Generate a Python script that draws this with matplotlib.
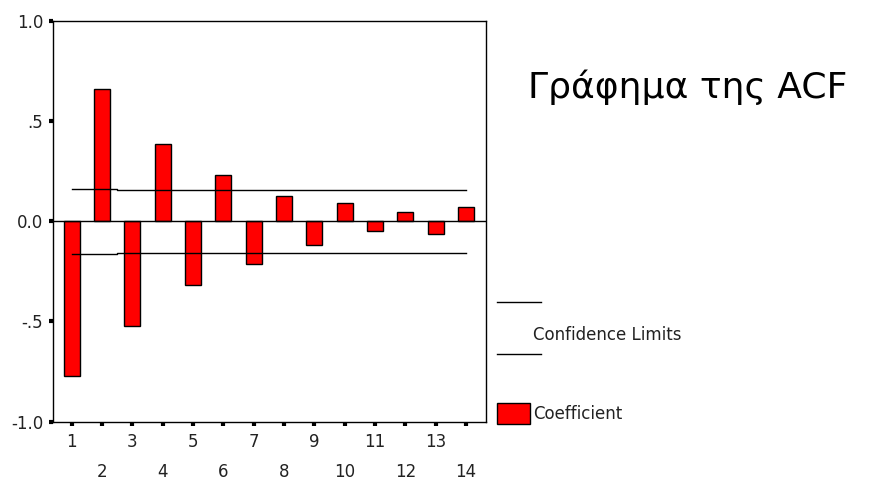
import matplotlib
matplotlib.use("Agg")
import matplotlib.pyplot as plt
from matplotlib.lines import Line2D
from matplotlib.patches import Rectangle

# ACF values
lags = list(range(1, 15))
acf = [-0.77, 0.657, -0.525, 0.387, -0.316, 0.228, -0.213,
       0.128, -0.117, 0.091, -0.047, 0.046, -0.065, 0.070]
upper = [0.160, 0.160] + [0.155] * 12
lower = [-0.165, -0.165] + [-0.160] * 12
yticks = [-1.0, -0.5, 0.0, 0.5, 1.0]
ytick_labels = ["-1.0", "-.5", "0.0", ".5", "1.0"]
title = "Γράφημα της ACF"

plt.rcParams["font.family"] = ["DejaVu Sans"]

fig = plt.figure(figsize=(8.75, 4.8), dpi=100)
ax = fig.add_axes([53 / 875, 1 - 421.7 / 480, 433 / 875, 401 / 480])

ax.bar(lags, acf, width=0.53, color="#ff0000", edgecolor="black", linewidth=1.0, zorder=2)
ax.axhline(0, color="black", linewidth=1.0, zorder=3)
ax.plot(lags, upper, color="black", linewidth=1.0, drawstyle="steps-mid", zorder=3)
ax.plot(lags, lower, color="black", linewidth=1.0, drawstyle="steps-mid", zorder=3)

ax.set_xlim(0.38, 14.66)
ax.set_ylim(-1.0, 1.0)
ax.set_yticks(yticks)
ax.set_yticklabels(ytick_labels)

odd = [l for l in lags if l % 2 == 1]
even = [l for l in lags if l % 2 == 0]
ax.set_xticks(odd)
ax.set_xticklabels([str(l) for l in odd])
ax.set_xticks(even, minor=True)
ax.set_xticklabels([str(l) for l in even], minor=True)

for s in ax.spines.values():
    s.set_linewidth(1.0)
ax.tick_params(axis="both", which="both", direction="out", length=3, width=3,
               color="black", labelsize=12, labelcolor="#222222")
ax.tick_params(axis="x", which="major", pad=5)
ax.tick_params(axis="x", which="minor", pad=27)
ax.tick_params(axis="y", pad=4)

# legend drawn by hand to mimic the SPSS layout
fig.add_artist(Line2D([497 / 875, 541 / 875], [1 - 302 / 480] * 2, color="black", linewidth=1.0))
fig.add_artist(Line2D([497 / 875, 541 / 875], [1 - 354 / 480] * 2, color="black", linewidth=1.0))
fig.text(533 / 875, 1 - 335 / 480, "Confidence Limits", fontsize=12, va="center", ha="left", color="#222222")
fig.add_artist(Rectangle((497 / 875, 1 - 424 / 480), 33 / 875, 21 / 480,
                         facecolor="#ff0000", edgecolor="black", linewidth=1.0))
fig.text(533 / 875, 1 - 414 / 480, "Coefficient", fontsize=12, va="center", ha="left", color="#222222")

fig.text(528 / 875, 1 - 98 / 480, title, fontsize=26, family=["DejaVu Sans"],
         ha="left", va="baseline", color="black")

fig.savefig("out.png", dpi=100)
